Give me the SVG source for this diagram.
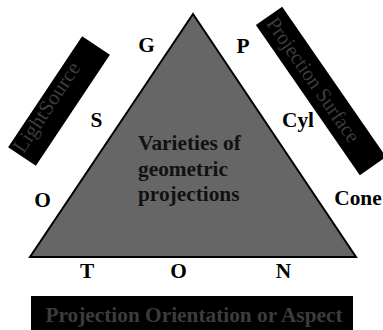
<svg xmlns="http://www.w3.org/2000/svg" width="383" height="330" viewBox="0 0 383 330">
<style>
.lbl{font-family:"Liberation Serif",serif;font-weight:700;font-size:21.33px;fill:#000;text-anchor:middle}
.ctr{font-family:"Liberation Serif",serif;font-weight:700;font-size:21.33px;fill:#111}
.box{fill:#000}
.boxtxt{font-family:"Liberation Serif",serif;font-size:21px;fill:#3c3c3c}
.btm{font-family:"Liberation Serif",serif;font-weight:700;font-size:21.33px;fill:#3c3c3c;text-anchor:middle}
</style>
<rect width="383" height="330" fill="#fff"/>
<g id="triangle">
<polygon points="193,14 356,257 30,257" fill="#666" stroke="#000" stroke-width="2" stroke-linejoin="miter"/>
<text class="ctr" x="138" y="150">Varieties of</text>
<text class="ctr" x="138" y="175.5">geometric</text>
<text class="ctr" x="138" y="201">projections</text>
</g>
<g id="lightsource" transform="translate(59,101) rotate(-56.3)">
<rect class="box" x="-66.7" y="-16.7" width="133.4" height="33.4"/>
<text class="boxtxt" x="-64" y="0" textLength="104" lengthAdjust="spacingAndGlyphs">LightSource</text>
</g>
<g id="projsurface" transform="translate(321,91) rotate(55.3)">
<rect class="box" x="-91.3" y="-16" width="182.6" height="32"/>
<text class="boxtxt" x="-87" y="7" textLength="147" lengthAdjust="spacingAndGlyphs">Projection Surface</text>
</g>
<g id="orientation">
<rect class="box" x="31" y="296" width="322" height="36"/>
<text class="btm" x="194" y="322" font-weight="bold">Projection Orientation or Aspect</text>
</g>
<g id="labels">
<text class="lbl" x="146.5" y="52">G</text>
<text class="lbl" x="243" y="53">P</text>
<text class="lbl" x="96.5" y="127">S</text>
<text class="lbl" x="298" y="127">Cyl</text>
<text class="lbl" x="42.5" y="207">O</text>
<text class="lbl" x="358" y="205">Cone</text>
<text class="lbl" x="87" y="278">T</text>
<text class="lbl" x="178.5" y="278">O</text>
<text class="lbl" x="283.5" y="278">N</text>
</g>
<g id="connectors"></g>
</svg>
